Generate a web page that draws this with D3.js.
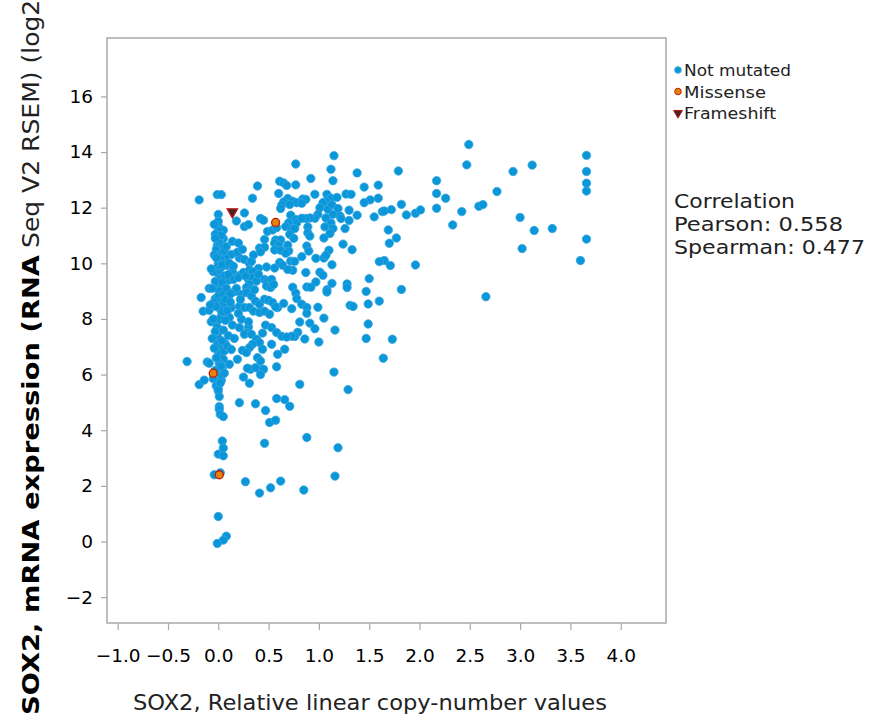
<!DOCTYPE html>
<html>
<head>
<meta charset="utf-8">
<script src="https://cdn.jsdelivr.net/npm/d3@7"></script>
<style>
  body { margin: 0; background: #fff; }
  svg text { font-family: "DejaVu Sans", sans-serif; }
</style>
</head>
<body>
<div id="chart"></div>
<script>
// copy-number (x) vs mRNA expression (y), one array per mutation type
var notMutated = [
  [0.77,13.57],[1.15,13.87],[1.12,13.38],[1.38,13.25],[1.79,13.32],[0.92,13.05],[1.14,12.97],[0.77,12.82],
  [1.59,12.81],[1.45,12.74],[2.49,14.27],[2.47,13.54],[3.12,13.53],[3.66,13.88],[3.66,13.30],[3.66,12.88],
  [3.66,12.60],[3.66,10.87],[3.60,10.10],[2.93,13.30],[2.17,12.97],[2.17,12.51],[2.26,12.34],[2.77,12.58],
  [2.17,11.98],[1.63,11.86],[1.65,11.88],[1.72,11.93],[1.82,12.12],[1.87,11.74],[1.96,11.80],[2.01,11.92],
  [2.42,11.86],[2.59,12.05],[2.63,12.11],[2.33,11.38],[3.00,11.65],[3.14,11.18],[3.32,11.25],[3.02,10.53],
  [1.59,12.34],[1.51,12.28],[1.45,12.18],[1.69,11.20],[1.77,10.91],[1.70,10.72],[1.65,10.10],[1.71,9.92],
  [1.60,10.06],[1.96,9.94],[1.82,9.06],[1.60,8.64],[2.66,8.80],[1.73,7.27],[1.64,6.59],[1.29,5.46],
  [1.15,6.09],[0.81,5.65],[0.88,3.74],[1.19,3.37],[1.16,2.35],[0.85,1.85],[0.62,2.17],[0.52,1.93],
  [0.41,1.74],[0.27,2.15],[0.46,3.53],[0.58,5.14],[0.66,5.10],[0.71,4.86],[0.51,4.28],[0.57,4.36],
  [0.47,4.71],[0.37,4.95],[0.21,4.99],[0.58,6.28],[0.41,6.19],[0.45,6.19],[0.42,6.00],[0.32,6.19],
  [0.29,6.23],[0.25,5.91],[0.31,5.69],
  // column near zero, lower part
  [0.00,5.41],[0.01,5.21],[-0.02,5.59],[0.01,4.85],[0.01,4.75],[0.02,4.57],[0.05,4.49],[0.04,3.61],
  [0.05,3.36],[0.00,3.14],[0.05,3.08],[-0.04,2.40],[0.02,2.47],[0.00,0.90],[0.08,0.19],[0.05,0.05],
  [-0.01,-0.07],[-0.19,5.64],[-0.14,5.80],[-0.31,6.47],[-0.11,6.45],[-0.09,6.41],[0.03,5.79],[0.04,6.18],
  [0.11,6.37],[0.00,5.47],
  // left outliers
  [-0.19,12.28],[-0.01,12.47],[0.03,12.47],[-0.17,8.77],[-0.09,9.10],[-0.15,8.28],[-0.09,8.31],[-0.07,7.90],
  [-0.02,7.85],
  // upper left group
  [0.39,12.78],[0.61,12.95],[0.65,12.89],[0.68,12.80],[0.60,12.51],[0.34,12.34],[0.69,12.33],[0.74,12.23],
  [0.78,12.18],[0.65,12.21],[0.63,12.09],[0.62,11.97],[0.26,11.81],[0.42,11.61],[0.45,11.55],[0.18,11.52],
  [0.26,11.32],[0.30,11.39],[0.00,11.34],[0.05,11.19],[0.72,11.73],[0.77,11.58],[0.70,11.46],[0.78,11.46],
  [0.67,11.32],[0.73,11.22],[0.76,11.25],[0.71,11.04],[0.75,10.90],[0.49,11.15],[0.54,11.20],[0.58,11.28],
  [0.05,10.89],[0.01,10.83],[-0.01,10.65],[-0.02,10.50],[0.14,10.79],[0.20,10.73],[0.46,10.86],[0.57,10.84],
  [0.62,10.84],[0.56,10.72],[0.60,10.65],[0.41,10.55],[0.46,10.58],[0.42,10.41],[0.56,10.48],[0.62,10.47],
  [0.69,10.65],[0.70,10.44],[0.67,10.36],[0.72,10.08],[0.76,10.07],[0.03,10.35],[0.13,10.32],[0.07,10.19],
  [0.03,10.08],[0.21,10.19],[0.26,10.14],[0.31,10.00],[0.33,10.07],[0.40,9.82],[0.48,9.87],[0.56,9.83],
  [0.61,10.03],[0.64,9.93],[0.00,11.16],[0.01,10.74],[0.02,10.14],[0.00,10.00],[0.03,9.88],[0.00,11.76],
  [0.00,11.51],[-0.03,11.04],
  // around x = 1
  [1.08,12.48],[1.12,12.34],[1.07,12.23],[1.04,12.18],[1.18,12.37],[1.27,12.49],[1.32,12.48],[0.96,12.48],
  [0.84,12.31],[0.87,12.30],[0.83,12.16],[0.71,12.11],[1.01,12.00],[1.09,11.94],[1.13,12.10],[1.19,11.97],
  [1.30,11.91],[1.38,11.73],[1.14,11.76],[1.21,11.70],[1.22,11.61],[1.30,11.54],[0.99,11.76],[0.96,11.62],
  [0.91,11.63],[0.87,11.61],[0.83,11.62],[1.07,11.63],[1.55,11.67],[1.12,11.45],[1.06,11.31],[1.14,11.25],
  [1.11,11.07],[1.26,11.25],[0.89,11.31],[0.89,11.09],[0.91,10.98],[1.05,10.91],[1.24,10.69],[1.33,10.49],
  [1.10,10.47],[0.88,10.62],[0.90,10.44],[0.97,10.18],[1.05,10.19],[1.07,10.29],[1.13,9.95],[0.83,10.24],
  [0.74,9.75],[0.87,9.67],[1.01,9.68],[1.04,9.57],[0.97,9.33],[1.13,9.28],[0.88,9.15],[0.92,9.14],
  [0.74,9.14],[1.08,9.05],[1.08,8.97],[1.28,9.26],[1.28,9.13],[1.50,9.45],[1.47,8.99],[0.77,8.93],
  [0.78,8.73],[0.83,8.53],[0.88,8.41],[0.88,8.20],[0.99,8.42],[0.73,8.37],[1.31,8.49],[1.34,8.45],
  [1.49,8.54],[1.05,8.03],[0.81,7.89],[0.91,7.85],[0.96,7.65],[0.79,7.52],[0.76,7.37],[0.73,7.38],
  [0.86,7.28],[1.00,7.17],[1.16,7.60],[1.49,7.82],[1.47,7.30],
  // middle cluster
  [0.00,9.90],[0.02,9.82],[0.08,9.93],[0.14,9.72],[0.21,9.56],[0.25,9.67],[0.31,9.76],[0.34,9.70],
  [0.69,9.78],[0.00,9.63],[0.03,9.49],[0.10,9.39],[0.15,9.42],[0.20,9.49],[0.30,9.42],[0.34,9.49],
  [0.38,9.36],[0.31,9.24],[0.28,9.13],[0.33,9.06],[0.46,9.42],[0.49,9.36],[0.53,9.42],[0.48,9.18],
  [0.52,9.13],[0.55,9.24],[-0.03,8.73],[0.01,9.24],[0.01,9.00],[0.00,8.82],[0.03,8.64],[0.05,8.53],
  [0.02,8.35],[0.06,8.17],[0.03,8.10],[0.01,7.99],[-0.01,7.69],[-0.01,7.45],[0.01,7.27],[-0.01,7.09],
  [0.03,6.94],[0.00,6.82],[0.02,6.73],[0.05,6.55],[0.01,6.39],[0.03,5.97],[0.10,8.77],[0.16,8.98],
  [0.13,8.41],[0.11,8.05],[0.23,8.88],[0.28,8.95],[0.33,8.82],[0.37,8.64],[0.41,8.53],[0.46,8.71],
  [0.50,8.67],[0.54,8.59],[0.59,8.41],[0.21,8.46],[0.26,8.41],[0.31,8.41],[0.35,8.28],[0.41,8.23],
  [0.46,8.28],[0.51,8.17],[0.57,8.43],[0.65,8.56],[0.23,7.99],[0.14,7.78],[0.21,7.69],[0.30,7.71],
  [0.28,7.51],[0.26,7.45],[0.33,7.45],[0.44,7.49],[0.47,7.78],[0.53,7.69],[0.58,7.51],[0.63,7.38],
  [0.68,7.35],[0.38,7.27],[0.41,7.15],[0.34,7.09],[0.31,6.97],[0.24,6.87],[0.28,6.79],[0.44,6.91],
  [0.53,7.09],[0.59,6.73],[0.66,6.91],[0.07,7.11],[0.37,6.25],[0.39,6.61],[0.42,6.49],
  // dense column, extra
  [-0.04,11.40],[0.03,11.00],[-0.03,10.90],[0.05,10.60],[-0.04,10.30],[0.06,10.45],[-0.02,10.20],[0.04,9.95],
  [-0.05,9.70],[0.06,9.55],[-0.03,9.35],[0.04,9.30],[-0.06,9.10],[0.05,8.90],[-0.04,8.60],[0.07,8.70],
  [-0.02,8.45],[0.04,8.25],[-0.05,8.00],[0.07,7.95],[-0.03,7.55],[0.05,7.60],[-0.06,7.30],[0.04,7.20],
  [-0.04,6.95],[0.06,6.85],[-0.02,6.60],[0.03,6.30],[-0.03,6.15],[0.06,6.05],[-0.05,5.85],[0.02,5.70],
  [0.08,9.10],[0.09,8.30],[0.10,7.40],[0.08,10.60],[0.10,9.60],[0.12,8.90],[-0.07,9.80],[-0.08,8.50],
  [0.11,10.00],[0.09,7.00],[0.18,9.10],[0.22,8.70],[0.27,9.55],[0.36,9.05],[0.40,9.60],[0.15,9.90],
  [0.19,10.40],[0.24,10.50],[0.35,10.30],[0.12,8.60],[0.20,8.20],[0.30,7.90],[0.16,7.30],[0.19,6.55],
  [0.13,6.90]
];
var missense = [[0.57,11.47],[-0.05,6.05],[0.01,2.40]];
var frameshift = [[0.14,11.85]];

var xTicks = [-1.0,-0.5,0.0,0.5,1.0,1.5,2.0,2.5,3.0,3.5,4.0];
var yTicks = [-2,0,2,4,6,8,10,12,14,16];
var legendItems = ["Not mutated","Missense","Frameshift"];
var legendWidths = [107, 82, 92];
var corrLines = ["Correlation","Pearson: 0.558","Spearman: 0.477"];
var corrWidths = [121, 169, 191];

var width = 878, height = 719;
var plotL = 107, plotR = 666, plotT = 38, plotB = 623;

var svg = d3.select("#chart").append("svg")
  .attr("width", width)
  .attr("height", height);

var x = d3.scaleLinear().domain([-1.106, 4.45]).range([plotL, plotR]);
var y = d3.scaleLinear().domain([-2.93, 18.1]).range([plotB, plotT]);

// frame
svg.append("rect")
  .attr("x", plotL).attr("y", plotT)
  .attr("width", plotR - plotL).attr("height", plotB - plotT)
  .attr("fill", "none")
  .attr("stroke", "#a8a8a8")
  .attr("stroke-width", 1.5);

var fmt = d3.format(".1f");
var xAxis = svg.append("g")
  .attr("transform", "translate(0," + plotB + ")")
  .call(d3.axisBottom(x).tickValues(xTicks).tickSize(7).tickPadding(19)
    .tickFormat(function(d){ return fmt(d); }));
var yAxis = svg.append("g")
  .attr("transform", "translate(" + plotL + ",0)")
  .call(d3.axisLeft(y).tickValues(yTicks).tickSize(6).tickPadding(8));

[xAxis, yAxis].forEach(function(a){
  a.select(".domain").remove();
  a.selectAll(".tick line").attr("stroke", "#a8a8a8").attr("stroke-width", 1.2);
  a.selectAll(".tick text").attr("fill", "#000").style("font-size", "18.5px")
    .style("font-family", "'DejaVu Sans', sans-serif");
});

// axis titles
svg.append("text")
  .attr("x", 133).attr("y", 710)
  .style("font-size", "21px").attr("fill", "#222")
  .attr("textLength", 474).attr("lengthAdjust", "spacingAndGlyphs")
  .text("SOX2, Relative linear copy-number values");

// y title: bold part from the bottom up to y=255, plain part after it
svg.append("text")
  .attr("transform", "translate(39,715) rotate(-90)")
  .style("font-size", "23px").style("font-weight", "bold").attr("fill", "#000")
  .attr("textLength", 460).attr("lengthAdjust", "spacingAndGlyphs")
  .text("SOX2, mRNA expression (RNA");
svg.append("text")
  .attr("transform", "translate(39,248) rotate(-90)")
  .style("font-size", "23px").attr("fill", "#222")
  .attr("textLength", 258).attr("lengthAdjust", "spacingAndGlyphs")
  .text("Seq V2 RSEM) (log2)");

// points
var g = svg.append("g");
g.selectAll("circle.nm")
  .data(notMutated)
  .enter().append("circle")
  .attr("class", "nm")
  .attr("cx", function(d){ return x(d[0]); })
  .attr("cy", function(d){ return y(d[1]); })
  .attr("r", 4.2)
  .attr("fill", "#0a97da")
  .attr("stroke", "#3aa6df")
  .attr("stroke-width", 0.8);

g.selectAll("circle.ms")
  .data(missense)
  .enter().append("circle")
  .attr("class", "ms")
  .attr("cx", function(d){ return x(d[0]); })
  .attr("cy", function(d){ return y(d[1]); })
  .attr("r", 4)
  .attr("fill", "#e3820c")
  .attr("stroke", "#c01a0a")
  .attr("stroke-width", 1.3);

var tri = d3.symbol().type(d3.symbolTriangle).size(48);
g.selectAll("path.fs")
  .data(frameshift)
  .enter().append("path")
  .attr("class", "fs")
  .attr("d", tri)
  .attr("transform", function(d){ return "translate(" + x(d[0]) + "," + y(d[1]) + ") rotate(180)"; })
  .attr("fill", "#4a2424")
  .attr("stroke", "#b81414")
  .attr("stroke-width", 1.2);

// legend
var lg = svg.append("g").attr("transform", "translate(678,70)");
legendItems.forEach(function(name, i){
  var row = lg.append("g").attr("transform", "translate(0," + (i * 21.5) + ")");
  if (i === 2) {
    row.append("path").attr("d", d3.symbol().type(d3.symbolTriangle).size(34))
      .attr("transform", "translate(0,0) rotate(180)")
      .attr("fill", "#4a2424").attr("stroke", "#b81414").attr("stroke-width", 1);
  } else {
    row.append("circle").attr("r", 3.3)
      .attr("fill", i === 0 ? "#0a97da" : "#e3820c")
      .attr("stroke", i === 0 ? "#3aa6df" : "#c01a0a").attr("stroke-width", 1);
  }
  row.append("text").attr("x", 6).attr("y", 6)
    .style("font-size", "16px").attr("fill", "#222")
    .attr("textLength", legendWidths[i]).attr("lengthAdjust", "spacingAndGlyphs")
    .text(name);
});

// correlation text
corrLines.forEach(function(t, i){
  svg.append("text").attr("x", 674).attr("y", 208 + i * 23)
    .style("font-size", "20px").attr("fill", "#222")
    .attr("textLength", corrWidths[i]).attr("lengthAdjust", "spacingAndGlyphs")
    .text(t);
});
</script>
</body>
</html>
